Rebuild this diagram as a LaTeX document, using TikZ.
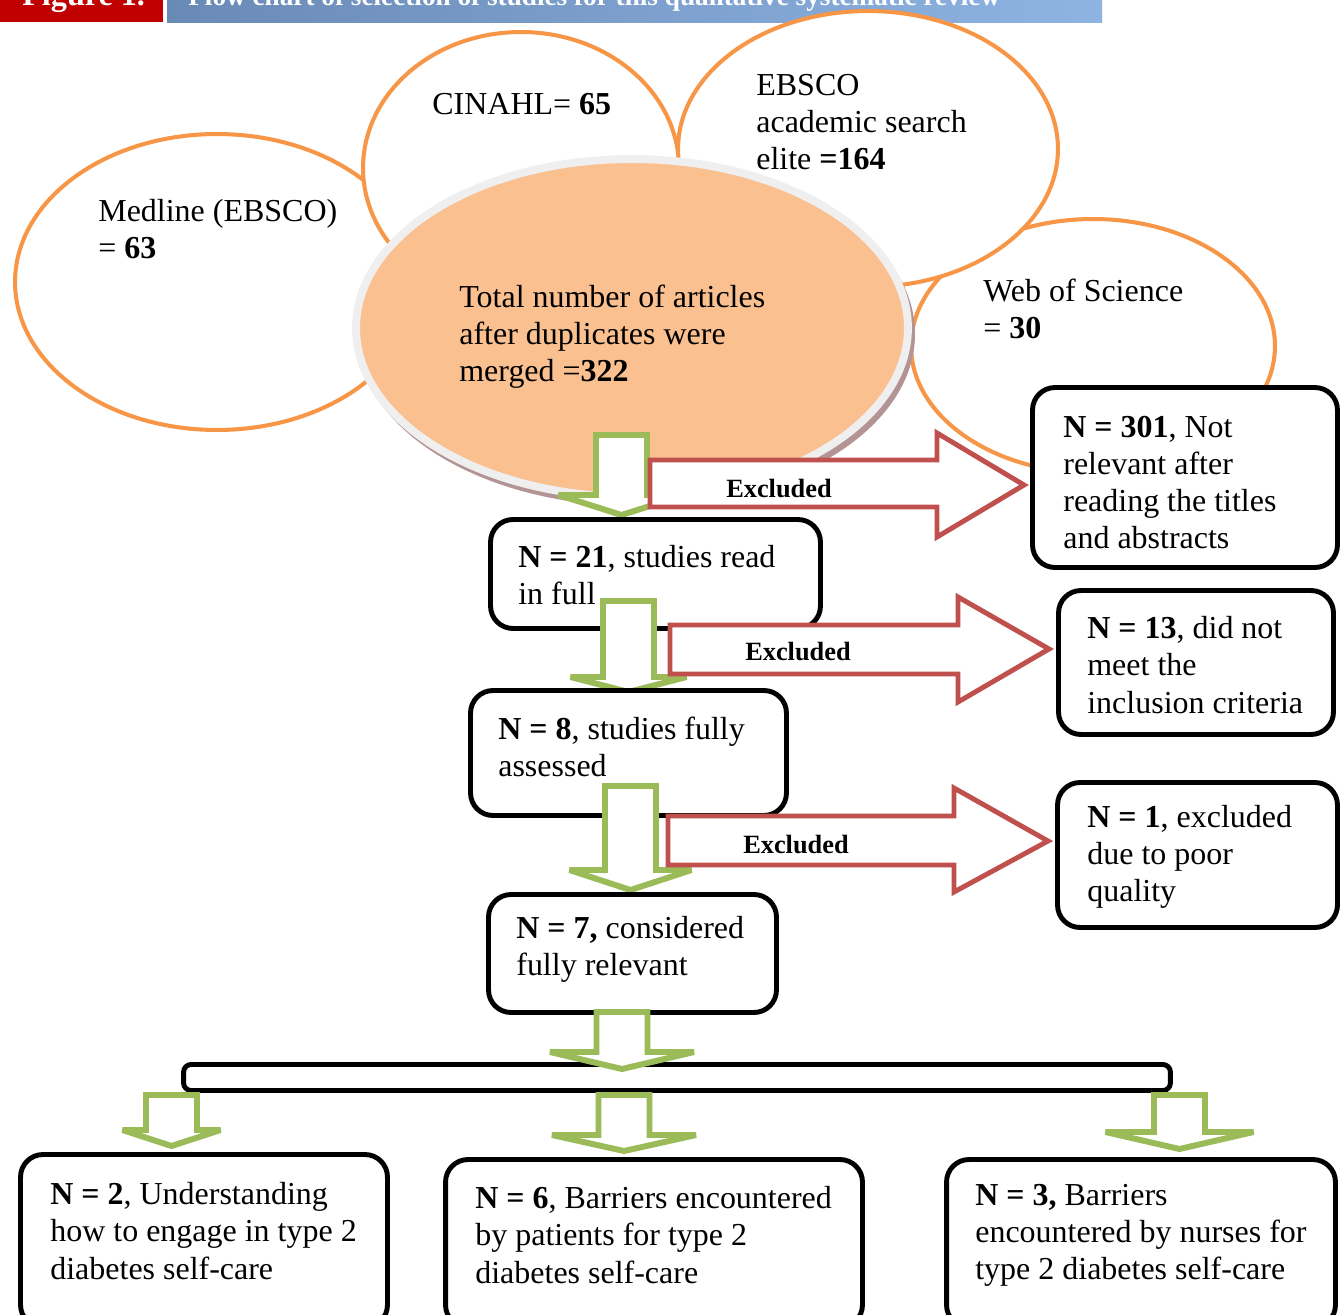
\documentclass[tikz,border=0pt]{standalone}
\usepackage{fontspec}
\setmainfont{Liberation Serif}
\usetikzlibrary{positioning, calc, shapes.geometric}

\definecolor{srcorange}{HTML}{F79646}
\definecolor{mergefill}{HTML}{FAC090}
\definecolor{mergering}{HTML}{EFEFEF}
\definecolor{mergeshadow}{HTML}{B39393}
\definecolor{flowgreen}{HTML}{9BBB59}
\definecolor{exred}{HTML}{C0504D}
\definecolor{figred}{HTML}{C00000}
\definecolor{barblueL}{HTML}{6A8AB6}
\definecolor{barblueR}{HTML}{8EB4E3}

\begin{document}
\begin{tikzpicture}[
            x=0.02cm, y=-0.02cm,
            source/.style={ellipse, draw=srcorange, line width=2.3pt, fill=white, inner sep=0pt},
            stage/.style={rectangle, draw, line width=2.8pt, rounded corners=0.45cm, fill=white, inner sep=0pt},
            label/.style={anchor=west, align=left, inner sep=0pt, font=\fontsize{18.2}{21.1}\selectfont},
            exlabel/.style={inner sep=0pt, font=\fontsize{15}{17}\selectfont\bfseries},
            keep/.style={draw=flowgreen, line width=3.4pt, fill=white, line join=miter, miter limit=2},
            drop/.style={draw=exred, line width=2.8pt, fill=white, line join=miter}
        ]
            \useasboundingbox (0,0) rectangle (1340,1315);
            \clip (0,0) rectangle (1340,1315);
            \fill[white] (0,0) rectangle (1340,1315);

            % --- 1. header bar (cut at the top) ---
            \fill[figred] (0,-30) rectangle (163,22);
            \shade[left color=barblueL, right color=barblueR] (167,-30) rectangle (1102,22);
            \node[anchor=base west, inner sep=0pt, text=white, font=\fontsize{18.3}{20}\selectfont\bfseries] (figno) at (22,6) {Figure 1.};
            \node[anchor=base west, inner sep=0pt, text=white, font=\fontsize{15.5}{18}\selectfont\bfseries] (figtitle) at (188,6) {Flow chart of selection of studies for this qualitative systematic review};

            % --- 2. databases ---
            \node[source, minimum width=8.08cm, minimum height=5.92cm] (medline) at (217,282) {};
            \node[source, minimum width=6.32cm, minimum height=5.44cm] (cinahl) at (521,168) {};
            \node[source, minimum width=7.28cm, minimum height=5.08cm] (wos) at (1093,346) {};
            \node[source, minimum width=7.6cm, minimum height=5.52cm] (ebsco) at (868,149) {};

            \node[label] (medlinetxt) at (98,229) {Medline (EBSCO)\\= \textbf{63}};
            \node[label] (cinahltxt) at (432,104) {CINAHL= \textbf{65}};
            \node[label] (ebscotxt) at (756,122) {EBSCO\\academic search\\elite \textbf{=164}};
            \node[label] (wostxt) at (983,309) {Web of Science\\= \textbf{30}};

            % --- 3. merged total ---
            \fill[mergeshadow] (636,334) ellipse [x radius=279, y radius=172];
            \node[ellipse, draw=mergering, line width=4.5pt, fill=mergefill, inner sep=0pt,
                  minimum width=11.04cm, minimum height=6.76cm] (merged) at (632,328) {};
            \node[label] (mergedtxt) at (459,337) {Total number of articles\\after duplicates were\\merged =\textbf{322}};

            % --- 4. screening steps ---
            \draw[keep] (596,435) -- (647,435) -- (647,495) -- (684.5,495) -- (621.5,515) -- (558.5,495) -- (596,495) -- cycle;
            \draw[drop] (650,460) -- (937,460) -- (937,433) -- (1024,485) -- (937,537) -- (937,507) -- (650,507) -- cycle;
            \node[exlabel] (ex1) at (779,489) {Excluded};

            \node[stage, minimum width=6.6cm, minimum height=2.18cm] (read) at (655.5,574) {};
            \node[label] (readtxt) at (518,575) {\textbf{N = 21}, studies read\\in full};
            \node[stage, minimum width=6.1cm, minimum height=3.6cm] (titles) at (1185,477.5) {};
            \node[label] (titlestxt) at (1063,482.5) {\textbf{N = 301}, Not\\relevant after\\reading the titles\\and abstracts};

            \draw[keep] (603,601) -- (654,601) -- (654,677) -- (686.5,677) -- (628.5,692) -- (570.5,677) -- (603,677) -- cycle;
            \draw[drop] (670,625) -- (958,625) -- (958,597) -- (1049,649) -- (958,702) -- (958,674) -- (670,674) -- cycle;
            \node[exlabel] (ex2) at (798,652) {Excluded};

            \node[stage, minimum width=5.5cm, minimum height=2.88cm] (criteria) at (1196,662.5) {};
            \node[label] (criteriatxt) at (1087,665) {\textbf{N = 13}, did not\\meet the\\inclusion criteria};
            \node[stage, minimum width=6.32cm, minimum height=2.5cm] (assessed) at (628.5,753) {};
            \node[label] (assessedtxt) at (498,747) {\textbf{N = 8}, studies fully\\assessed};

            \draw[keep] (605,786) -- (656,786) -- (656,870) -- (691.5,870) -- (630.5,890) -- (569.5,870) -- (605,870) -- cycle;
            \draw[drop] (668,816) -- (954,816) -- (954,788) -- (1048,841) -- (954,892) -- (954,865) -- (668,865) -- cycle;
            \node[exlabel] (ex3) at (796,845) {Excluded};

            \node[stage, minimum width=5.6cm, minimum height=2.9cm] (quality) at (1197.5,855) {};
            \node[label] (qualitytxt) at (1087,857) {\textbf{N = 1}, excluded\\due to poor\\quality};
            \node[stage, minimum width=5.76cm, minimum height=2.36cm] (relevant) at (632.5,953.5) {};
            \node[label] (relevanttxt) at (516,949) {\textbf{N = 7,} considered\\fully relevant};

            % --- 5. split into themes ---
            \node[stage, rounded corners=0.15cm, minimum width=19.74cm, minimum height=0.52cm] (split) at (677,1077.5) {};
            \draw[keep] (596.5,1012) -- (647.5,1012) -- (647.5,1052) -- (694,1052) -- (622,1069) -- (550,1052) -- (596.5,1052) -- cycle;
            \foreach \ax/\hh/\by/\ty in {171.5/49/1130/1146, 624/72/1135/1151, 1179.5/74/1132/1149}
              \draw[keep] (\ax-25.5,1095) -- (\ax+25.5,1095) -- (\ax+25.5,\by) -- (\ax+\hh,\by) -- (\ax,\ty) -- (\ax-\hh,\by) -- (\ax-25.5,\by) -- cycle;

            \node[stage, minimum width=7.34cm, minimum height=3.46cm] (engage) at (204,1241) {};
            \node[label] (engagetxt) at (50,1231) {\textbf{N = 2}, Understanding\\how to engage in type 2\\diabetes self-care};
            \node[stage, minimum width=8.34cm, minimum height=3.36cm] (patients) at (654,1243.5) {};
            \node[label] (patientstxt) at (475,1235) {\textbf{N = 6}, Barriers encountered\\by patients for type 2\\diabetes self-care};
            \node[stage, minimum width=7.78cm, minimum height=3.36cm] (nurses) at (1141,1243.5) {};
            \node[label] (nursestxt) at (975,1235) {\textbf{N = 3,} Barriers\\encountered by nurses for\\type 2 diabetes self-care};

        \end{tikzpicture}
\end{document}
